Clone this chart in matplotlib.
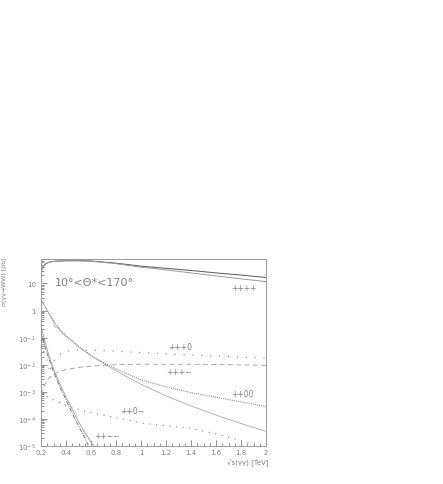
import numpy as np
import matplotlib
matplotlib.use("Agg")
import matplotlib.pyplot as plt
from matplotlib.ticker import FixedLocator, FuncFormatter, LogLocator, MultipleLocator, NullFormatter

# ---------------- data (x in TeV, log10 of sigma in pb) ----------------
x_pppp = [0.2, 0.21, 0.22, 0.24, 0.27, 0.31, 0.4, 0.5, 0.6, 0.8, 1.0, 1.2, 1.4, 1.6, 1.8, 2.0]
l_pppp_a = [1.37, 1.55, 1.65, 1.74, 1.79, 1.82, 1.84, 1.84, 1.83, 1.75, 1.64, 1.56, 1.48, 1.39, 1.31, 1.22]
l_pppp_b = [1.37, 1.55, 1.65, 1.74, 1.79, 1.82, 1.84, 1.84, 1.82, 1.73, 1.60, 1.50, 1.39, 1.28, 1.17, 1.07]

x_pp00 = [0.2, 0.25, 0.3, 0.35, 0.4, 0.45, 0.5, 0.6, 0.7, 0.8, 0.9, 1.0, 1.2, 1.4, 1.6, 1.8, 2.0]
l_pp00_a = [0.40, 0.0, -0.38, -0.68, -0.92, -1.12, -1.32, -1.65, -1.92, -2.15, -2.36, -2.55, -2.82, -3.03, -3.20, -3.37, -3.54]
x_pp00_b = [0.2, 0.25, 0.28, 0.3, 0.315, 0.33, 0.36, 0.4, 0.45, 0.5, 0.6, 0.7, 0.8, 0.9, 1.0, 1.2, 1.4, 1.6, 1.8, 2.0]
l_pp00_b = [0.40, 0.0, -0.25, -0.42, -0.62, -0.6, -0.78, -0.95, -1.14, -1.34, -1.67, -1.95, -2.22, -2.48, -2.72, -3.15, -3.52, -3.86, -4.17, -4.46]

x_ppp0 = [0.22, 0.25, 0.27, 0.29, 0.32, 0.36, 0.4, 0.5, 0.7, 1.0, 1.3, 1.6, 2.0]
l_ppp0 = [-1.5, -1.85, -2.3, -1.95, -1.75, -1.6, -1.5, -1.45, -1.48, -1.55, -1.62, -1.68, -1.76]

x_pppm = [0.2, 0.22, 0.25, 0.3, 0.35, 0.4, 0.5, 0.6, 0.8, 1.0, 1.4, 2.0]
l_pppm = [-3.1, -2.85, -2.55, -2.35, -2.25, -2.18, -2.10, -2.05, -2.0, -1.98, -1.98, -2.02]

x_pp0m = [0.2, 0.3, 0.4, 0.5, 0.63, 0.8, 1.0, 1.2, 1.4, 1.6, 1.8, 2.0]
l_pp0m = [-3.05, -3.3, -3.5, -3.65, -3.8, -3.95, -4.15, -4.25, -4.35, -4.55, -4.8, -5.05]

x_ppmm_a = [0.2, 0.22, 0.25, 0.28, 0.3, 0.35, 0.4, 0.45, 0.5, 0.55, 0.58]
l_ppmm_a = [-0.75, -1.15, -1.6, -2.0, -2.25, -2.8, -3.3, -3.8, -4.25, -4.7, -5.0]
x_ppmm_b = [0.2, 0.22, 0.25, 0.28, 0.3, 0.35, 0.4, 0.45, 0.5, 0.55, 0.6, 0.62]
l_ppmm_b = [-0.55, -0.95, -1.45, -1.9, -2.15, -2.7, -3.2, -3.65, -4.1, -4.5, -4.85, -5.0]

x_ticks = [0.2, 0.4, 0.6, 0.8, 1.0, 1.2, 1.4, 1.6, 1.8, 2.0]
x_ticklabels = ["0.2", "0.4", "0.6", "0.8", "1", "1.2", "1.4", "1.6", "1.8", "2"]

labels = ["++++", "+++0", "+++\u2212", "++00", "++0\u2212", "++\u2212\u2212"]
label_x = [1.82, 1.31, 1.30, 1.81, 0.93, 0.73]
label_y = [7.0, 0.049, 0.0055, 8.5e-4, 2.0e-4, 2.5e-5]

# ---------------- figure ----------------
W, H = 443, 485
fig = plt.figure(figsize=(W / 100, H / 100), dpi=100)
ax = fig.add_axes([41 / W, 1 - 447 / H, 225 / W, (447 - 260) / H])

def p(v):
    return 10 ** np.asarray(v)

gray = "#808080"
ax.plot(x_pppp, p(l_pppp_a), color="#555555", lw=0.7)
ax.plot(x_pppp, p(l_pppp_b), color="#999999", lw=0.7)
ax.plot(x_pp00, p(l_pp00_a), color="#777777", lw=0.7, ls=(0, (1, 1.2)))
ax.plot(x_pp00_b, p(l_pp00_b), color="#aaaaaa", lw=0.6)
ax.plot(x_ppp0, p(l_ppp0), color="#888888", lw=0.8, ls=(0, (1, 7)))
ax.plot(x_pppm, p(l_pppm), color="#999999", lw=0.6, ls=(0, (6, 4)))
ax.plot(x_pp0m, p(l_pp0m), color="#888888", lw=0.8, ls=(0, (1, 5)))
ax.plot(x_ppmm_a, p(l_ppmm_a), color="#666666", lw=0.6, ls=(0, (5, 1.5, 1, 1.5)))
ax.plot(x_ppmm_b, p(l_ppmm_b), color="#999999", lw=0.6)

for t, lx, ly in zip(labels, label_x, label_y):
    ax.text(lx, ly, t, fontsize=5.5, color=gray, ha="center", va="center")

ax.text(0.63, 11, "10\u00b0<\u0398*<170\u00b0", fontsize=8, color=gray, ha="center", va="center")

ax.set_yscale("log")
ax.set_xlim(0.2, 2.0)
ax.set_ylim(1e-5, 80)

ax.xaxis.set_major_locator(FixedLocator(x_ticks))
ax.set_xticklabels(x_ticklabels)
ax.xaxis.set_minor_locator(MultipleLocator(0.05))

def yfmt(v, pos):
    e = int(round(np.log10(v)))
    if e == 0:
        return "1"
    if e == 1:
        return "10"
    return r"$10^{%d}$" % e

ax.yaxis.set_major_locator(LogLocator(base=10, numticks=20))
ax.yaxis.set_major_formatter(FuncFormatter(yfmt))
ax.yaxis.set_minor_locator(LogLocator(base=10, subs=np.arange(2, 10), numticks=20))
ax.yaxis.set_minor_formatter(NullFormatter())

ax.tick_params(axis="both", which="both", direction="in", colors="#808080",
               labelsize=5, top=False, right=False, width=0.6)
ax.tick_params(axis="x", which="major", length=4, pad=2.5)
ax.tick_params(axis="y", which="major", length=4, pad=3.5)
ax.tick_params(axis="both", which="minor", length=2)
for s in ax.spines.values():
    s.set_color("#999999")
    s.set_linewidth(0.7)

fig.text(227 / W, 1 - 463 / H, "\u221as(\u03b3\u03b3) [TeV]", fontsize=5, color=gray,
         ha="left", va="center")
fig.text(5 / W, 1 - 282 / H, "\u03c3(\u03b3\u03b3\u2192WW) [pb]", fontsize=4.5, color=gray,
         ha="center", va="center", rotation=90)

fig.savefig("out.png", dpi=100)
